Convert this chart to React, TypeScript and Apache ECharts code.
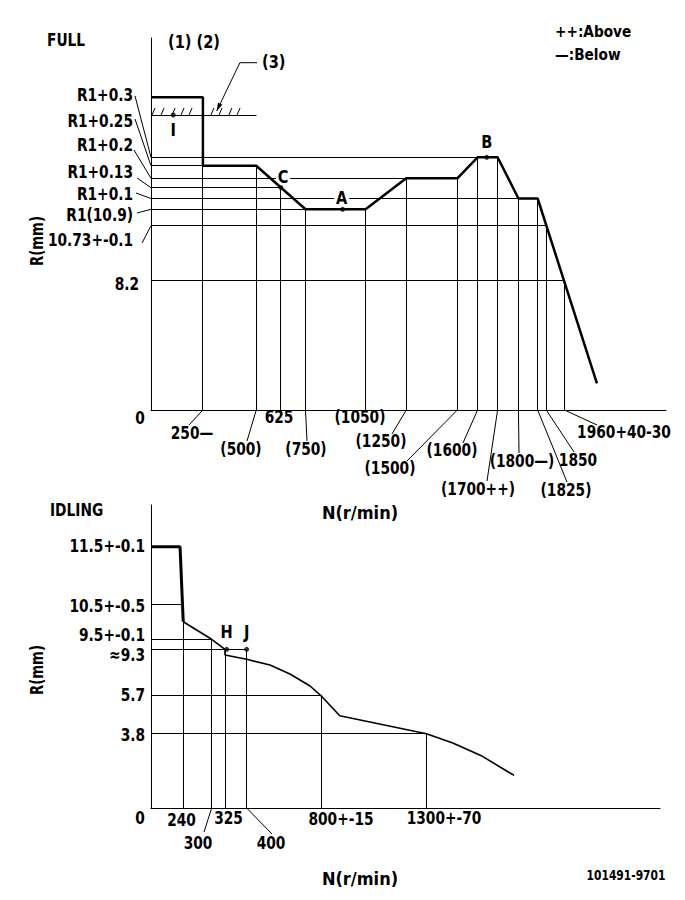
import React, { useEffect, useRef } from "react";
import * as echarts from "echarts";

const FONT = "'Liberation Sans Narrow', 'DejaVu Sans Condensed', 'Arial Narrow', sans-serif";
const FS = 18;
const SX = 0.85;

// ===== FULL (schematic diagram: positions are plotted positions along each axis) =====
const fullTickLabels = ["0", "250—", "(500)", "625", "(750)", "(1050)", "(1250)", "(1500)", "(1600)", "(1700++)", "(1800—)", "(1825)", "1850", "1960+40-30"];
const fullTickAt = [0, 254, 515, 636, 756, 1050, 1249, 1499, 1598, 1696, 1798, 1892, 1934, 2023];
const fullTickFrom = [0, 244.3, 244.3, 222.3, 200.7, 200.7, 231.7, 231.7, 252.7, 252.7, 211.5, 211.5, 184.3, 129.7];
const fullLevelLabels = ["R1+0.3", "R1+0.25", "R1+0.2", "R1+0.13", "R1+0.1", "R1(10.9)", "10.73+-0.1", "8.2"];
const fullLevelAt = [252.7, 244.3, 231.7, 222.3, 211.5, 200.7, 184.3, 129.7];
const fullLevelTo = [1598, 254, 1249, 636, 1798, 756, 1934, 2023];
const fullCurveX = [0, 254, 254, 515, 756, 1050, 1249, 1499, 1598, 1696, 1798, 1892, 2182];
const fullCurveY = [312.7, 312.7, 244.3, 244.3, 200.7, 200.7, 231.7, 231.7, 252.7, 252.7, 211.5, 211.5, 26.7];
const fullPointNames = ["I", "C", "A", "B"];
const fullPointX = [109, 636, 938, 1643];
const fullPointY = [295, 222.3, 200.7, 252.7];
const stopLevel = 295;
const stopEnd = 517;
const stopHatchAt = [10, 54, 108, 152, 191, 298, 338, 386, 426];
const stopArrowX = [519, 435, 321.5];
const stopArrowY = [347.3, 347.3, 299];

// ===== IDLING =====
const idleTickLabels = ["0", "240", "300", "325", "400", "800+-15", "1300+-70"];
const idleTickAt = [0, 152, 286, 349, 451, 802, 1299];
const idleTickFrom = [0, 186.3, 168.7, 158.7, 158.7, 112.2, 74.3];
const idleLevelLabels = ["11.5+-0.1", "10.5+-0.5", "9.5+-0.1", "≈9.3", "5.7", "3.8"];
const idleLevelAt = [261.3, 204, 168.7, 158.7, 112.2, 74.3];
const idleLevelTo = [0, 148.5, 286, 451, 802, 1299];
const idleBoldX = [0, 137, 152];
const idleBoldY = [261.3, 261.3, 186.3];
const idleCurveX = [152, 286, 349, 349, 451, 561, 655, 750, 802, 890, 1299, 1423, 1555, 1712];
const idleCurveY = [186.3, 168.7, 158.7, 153, 148.7, 143, 134, 122, 112.2, 92.2, 74.3, 65, 52.6, 32.6];
const idlePointNames = ["H", "J"];
const idlePointX = [357, 451];
const idlePointY = [158.7, 158.7];

// ===== layout (pixel positions of texts and leader ends) =====
const fullTickText = [[140, 418], [192, 433], [241, 449], [279, 417], [306, 449], [360, 417], [381, 441], [390, 468], [452, 450], [478, 489], [522, 461], [566, 490], [578, 460], [624, 432]];
const fullTickLead: (number[] | null)[] = [null, [189, 425], [247, 441], null, [307, 441], null, [392, 434], [407, 461], [463, 443], [487, 481], [519, 453], [567, 482], [574, 452], [597, 425]];
const fullLevelText = [[133, 95], [133, 121], [133, 145], [133, 172], [133, 194], [133, 215], [133, 240], [139, 284]];
const fullLevelLead: (number[] | null)[] = [[135, 96], [135, 119], [134, 150], [137, 178], [136, 193], [137, 213], [142, 243], null];
const fullPointOffset = [[0, 15], [2, -11], [-1, -12], [0, -16]];
const idleTickText = [[140, 818], [181.5, 820], [198, 843], [228.5, 818], [271, 843], [341, 819], [444, 818]];
const idleTickLead: (number[] | null)[] = [null, null, [204, 832], null, [272, 834], null, null];
const idleLevelText = [[145, 546], [145, 606], [145, 635], [145, 655], [145, 695], [145, 735]];
const idlePointOffset = [[0, -18], [0, -18]];

const crisp = (v: number) => Math.round(v - 0.5) + 0.5;
const lineEl = (a: number[], b: number[], w = 1, sharp = true) => ({
  type: "line",
  silent: true,
  shape: sharp
    ? { x1: crisp(a[0]), y1: crisp(a[1]), x2: crisp(b[0]), y2: crisp(b[1]) }
    : { x1: a[0], y1: a[1], x2: b[0], y2: b[1] },
  style: { stroke: "#000", lineWidth: w },
});
const textEl = (s: string, x: number, y: number, align = "center", size = FS, sx = SX, bg = false) => ({
  type: "text",
  silent: true,
  x,
  y,
  scaleX: sx,
  style: {
    text: s,
    fill: "#000",
    font: `bold ${size}px ${FONT}`,
    align,
    verticalAlign: "middle",
    textAlign: align,
    textVerticalAlign: "middle",
    backgroundColor: bg ? "#fff" : undefined,
    padding: bg ? [0, 2] : undefined,
  },
});

function fullRender(_p: any, api: any) {
  const c = (x: number, y: number) => api.coord([x, y]);
  const ch: any[] = [];
  fullTickAt.forEach((x, i) => {
    if (fullTickFrom[i] > 0) ch.push(lineEl(c(x, fullTickFrom[i]), c(x, 0)));
    const lead = fullTickLead[i];
    if (lead) ch.push(lineEl(c(x, 0), lead, 1, false));
    ch.push(textEl(fullTickLabels[i], fullTickText[i][0], fullTickText[i][1]));
  });
  fullLevelAt.forEach((y, i) => {
    ch.push(lineEl(c(0, y), c(fullLevelTo[i], y)));
    const lead = fullLevelLead[i];
    if (lead) ch.push(lineEl(c(0, y), lead, 1, false));
    ch.push(textEl(fullLevelLabels[i], fullLevelText[i][0], fullLevelText[i][1], "right"));
  });
  // stopper (3)
  ch.push(lineEl(c(0, stopLevel), c(stopEnd, stopLevel)));
  stopHatchAt.forEach((h) => {
    const p = c(h, stopLevel);
    ch.push(lineEl([p[0] - 1, p[1]], [p[0] + 2, p[1] - 7], 1, false));
  });
  const pts = stopArrowX.map((x, i) => c(x, stopArrowY[i]));
  ch.push({ type: "polyline", silent: true, shape: { points: pts }, style: { stroke: "#000", lineWidth: 1, fill: null } });
  const tip = pts[2], knee = pts[1];
  const dx = tip[0] - knee[0], dy = tip[1] - knee[1];
  const len = Math.hypot(dx, dy);
  const ux = dx / len, uy = dy / len;
  const bx = tip[0] - ux * 8, by = tip[1] - uy * 8;
  ch.push({
    type: "polygon",
    silent: true,
    shape: { points: [tip, [bx - uy * 2.5, by + ux * 2.5], [bx + uy * 2.5, by - ux * 2.5]] },
    style: { fill: "#000" },
  });
  // point labels
  fullPointNames.forEach((n, i) => {
    const p = c(fullPointX[i], fullPointY[i]);
    ch.push(textEl(n, p[0] + fullPointOffset[i][0], p[1] + fullPointOffset[i][1], "center", FS, 0.9, true));
  });
  return { type: "group", children: ch };
}

function idleRender(_p: any, api: any) {
  const c = (x: number, y: number) => api.coord([x, y]);
  const ch: any[] = [];
  idleTickAt.forEach((x, i) => {
    if (idleTickFrom[i] > 0) ch.push(lineEl(c(x, idleTickFrom[i]), c(x, 0)));
    const lead = idleTickLead[i];
    if (lead) ch.push(lineEl(c(x, 0), lead, 1, false));
    ch.push(textEl(idleTickLabels[i], idleTickText[i][0], idleTickText[i][1]));
  });
  idleLevelAt.forEach((y, i) => {
    if (idleLevelTo[i] > 0) ch.push(lineEl(c(0, y), c(idleLevelTo[i], y)));
    ch.push(textEl(idleLevelLabels[i], idleLevelText[i][0], idleLevelText[i][1], "right"));
  });
  idlePointNames.forEach((n, i) => {
    const p = c(idlePointX[i], idlePointY[i]);
    ch.push(textEl(n, p[0] + idlePointOffset[i][0], p[1] + idlePointOffset[i][1], "center", FS, 0.9));
  });
  return { type: "group", children: ch };
}

const axis = (grid: number, max: number) => ({
  type: "value",
  gridIndex: grid,
  min: 0,
  max,
  axisLine: { show: true, onZero: false, lineStyle: { color: "#000", width: 1 } },
  axisTick: { show: false },
  axisLabel: { show: false },
  splitLine: { show: false },
});

const pointSeries = (xs: number[], ys: number[], grid: number) => ({
  type: "scatter",
  xAxisIndex: grid,
  yAxisIndex: grid,
  symbol: "circle",
  symbolSize: 5,
  itemStyle: { color: "#000" },
  z: 5,
  silent: true,
  data: xs.map((x, i) => [x, ys[i]]),
});

const gText = (s: string, x: number, y: number, align = "left", size = FS, rot = 0, sx = SX) => ({
  type: "text",
  x,
  y,
  rotation: rot,
  scaleX: sx,
  silent: true,
  style: {
    text: s,
    fill: "#000",
    font: `bold ${size}px ${FONT}`,
    align,
    verticalAlign: "middle",
    textAlign: align,
    textVerticalAlign: "middle",
  },
});

export default function App() {
  const ref = useRef<HTMLDivElement>(null);
  useEffect(() => {
    if (!ref.current) return;
    const chart = echarts.init(ref.current, null, { renderer: "svg" });
    chart.setOption({
      animation: false,
      backgroundColor: "#fff",
      grid: [
        { left: 151, top: 38, width: 515, height: 372, outerBoundsMode: "none" },
        { left: 151, top: 505, width: 509, height: 303, outerBoundsMode: "none" },
      ],
      xAxis: [axis(0, 2520), axis(1, 2400)],
      yAxis: [axis(0, 372), axis(1, 303)],
      series: [
        { type: "custom", xAxisIndex: 0, yAxisIndex: 0, data: [[0, 0]], renderItem: fullRender, silent: true, z: 1 },
        {
          type: "line",
          xAxisIndex: 0,
          yAxisIndex: 0,
          data: fullCurveX.map((x, i) => [x, fullCurveY[i]]),
          showSymbol: false,
          symbol: "none",
          lineStyle: { color: "#000", width: 2.5 },
          z: 3,
          silent: true,
        },
        pointSeries(fullPointX, fullPointY, 0),
        { type: "custom", xAxisIndex: 1, yAxisIndex: 1, data: [[0, 0]], renderItem: idleRender, silent: true, z: 1 },
        {
          type: "line",
          xAxisIndex: 1,
          yAxisIndex: 1,
          data: idleBoldX.map((x, i) => [x, idleBoldY[i]]),
          showSymbol: false,
          symbol: "none",
          lineStyle: { color: "#000", width: 3 },
          z: 3,
          silent: true,
        },
        {
          type: "line",
          xAxisIndex: 1,
          yAxisIndex: 1,
          data: idleCurveX.map((x, i) => [x, idleCurveY[i]]),
          showSymbol: false,
          symbol: "none",
          lineStyle: { color: "#000", width: 1.6 },
          z: 3,
          silent: true,
        },
        pointSeries(idlePointX, idlePointY, 1),
      ],
      graphic: [
        gText("FULL", 47, 40),
        gText("(1) (2)", 168, 42, "left", FS, 0, 0.9),
        gText("(3)", 262, 62, "left", FS, 0, 0.9),
        gText("++:Above", 555, 32, "left", 16, 0, 0.95),
        gText("—:Below", 555, 55, "left", 16, 0, 0.95),
        gText("R(mm)", 37, 241, "center", FS, Math.PI / 2, 0.82),
        gText("N(r/min)", 360, 512, "center", FS, 0, 1),
        gText("IDLING", 50, 510),
        gText("R(mm)", 37, 670, "center", FS, Math.PI / 2, 0.82),
        gText("N(r/min)", 360, 878, "center", FS, 0, 1),
        gText("101491-9701", 626, 875, "center", 14),
      ],
    });
    return () => chart.dispose();
  }, []);
  return (
    <div
      ref={ref}
      style={{ position: "fixed", left: 0, top: 0, width: 685, height: 900, background: "#fff" }}
    />
  );
}
